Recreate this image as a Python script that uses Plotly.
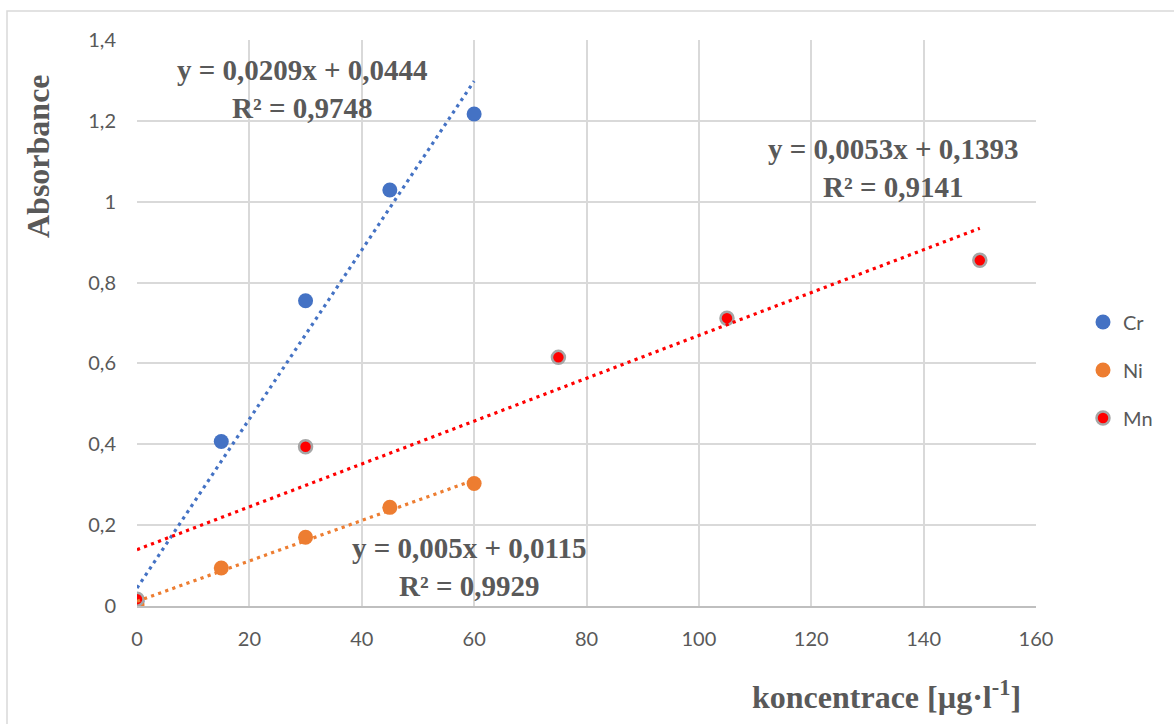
import plotly.graph_objects as go

# Calibration data: concentration [µg/l] vs. absorbance
cr_x = [0, 15, 30, 45, 60]
cr_y = [0.012, 0.407, 0.755, 1.029, 1.217]

ni_x = [0, 15, 30, 45, 60]
ni_y = [0.003, 0.094, 0.170, 0.244, 0.303]

mn_x = [0, 30, 75, 105, 150]
mn_y = [0.017, 0.394, 0.615, 0.712, 0.855]

# Linear trendlines (slope, intercept, R², x-range)
cr_fit = (0.0209, 0.0444, "0,9748", [0, 60])
ni_fit = (0.005, 0.0115, "0,9929", [0, 60])
mn_fit = (0.0053, 0.1393, "0,9141", [0, 150])

x_ticks = [0, 20, 40, 60, 80, 100, 120, 140, 160]
y_ticks = [0, 0.2, 0.4, 0.6, 0.8, 1.0, 1.2, 1.4]
y_tick_text = ["0", "0,2", "0,4", "0,6", "0,8", "1", "1,2", "1,4"]

GREY = "#595959"
TICK_FONT = dict(family="Lato", size=20, color=GREY)
EQ_FONT = dict(family="Liberation Serif", size=29, color=GREY, weight="bold")
TITLE_FONT = dict(family="Liberation Serif", size=32, color=GREY, weight="bold")

fig = go.Figure()

series = [
    ("Cr", cr_x, cr_y, dict(color="#4472C4", size=15)),
    ("Ni", ni_x, ni_y, dict(color="#ED7D31", size=15)),
    ("Mn", mn_x, mn_y, dict(color="#FF0000", size=13,
                             line=dict(color="#A6A6A6", width=2.5))),
]
for i, (name, xs, ys, marker) in enumerate(series):
    fig.add_trace(go.Scatter(x=xs, y=ys, mode="markers", name=name,
                             marker=marker, legendgroup=name,
                             legendrank=i))

def fit_line(fit, color):
    slope, intercept, _, (x0, x1) = fit
    xs = [x0, x1]
    ys = [slope * v + intercept for v in xs]
    return go.Scatter(x=xs, y=ys, mode="lines", showlegend=False,
                      hoverinfo="skip",
                      line=dict(color=color, width=3.2, dash="3.2px,4.3px"))

fig.add_trace(fit_line(cr_fit, "#4472C4"))
fig.add_trace(fit_line(ni_fit, "#ED7D31"))
fig.add_trace(fit_line(mn_fit, "#FF0000"))

def eq_text(fit):
    slope, intercept, r2, _ = fit
    s = f"{slope:g}".replace(".", ",")
    c = f"{intercept:g}".replace(".", ",")
    return f"y = {s}x + {c}<br>R² = {r2}"

annotations = [
    dict(x=(302 - 137) / 899, y=(606 - 89) / 566, text=eq_text(cr_fit)),
    dict(x=(893 - 137) / 899, y=(606 - 168) / 566, text=eq_text(mn_fit)),
    dict(x=(469 - 137) / 899, y=(606 - 567) / 566, text=eq_text(ni_fit)),
]
for a in annotations:
    fig.add_annotation(xref="paper", yref="paper", showarrow=False,
                       xanchor="center", yanchor="middle", align="center",
                       font=EQ_FONT, **a)

# Axis titles
fig.add_annotation(xref="paper", yref="paper", showarrow=False,
                   x=(38 - 137) / 899, y=(606 - 156) / 566,
                   xanchor="center", yanchor="middle", textangle=-90,
                   text="Absorbance", font=TITLE_FONT)
fig.add_annotation(xref="paper", yref="paper", showarrow=False,
                   x=(886 - 137) / 899, y=(606 - 695) / 566,
                   xanchor="center", yanchor="middle",
                   text="koncentrace [µg·l<sup>-1</sup>]", font=TITLE_FONT)

# Chart border
fig.add_shape(type="rect", xref="paper", yref="paper",
              x0=(7 - 137) / 899, x1=(1190 - 137) / 899,
              y0=(606 - 740) / 566, y1=(606 - 11) / 566,
              line=dict(color="#D9D9D9", width=1.5), layer="below")

fig.update_layout(
    width=1174, height=724,
    margin=dict(l=137, r=138, t=40, b=118),
    paper_bgcolor="white", plot_bgcolor="white",
    showlegend=True,
    legend=dict(x=(1083 - 137) / 899, y=(606 - 370) / 566,
                xanchor="left", yanchor="middle",
                font=dict(family="Lato", size=20, color=GREY),
                tracegroupgap=19, itemwidth=30,
                bgcolor="rgba(0,0,0,0)"),
    xaxis=dict(range=[0, 160], tickvals=x_ticks, ticktext=[str(v) for v in x_ticks],
               showgrid=True, gridcolor="#D9D9D9", gridwidth=1.5,
               zeroline=False, showline=True, linecolor="#BFBFBF", linewidth=1.5,
               ticks="outside", ticklen=14, tickcolor="rgba(0,0,0,0)",
               tickfont=TICK_FONT),
    yaxis=dict(range=[0, 1.4], tickvals=y_ticks, ticktext=y_tick_text,
               showgrid=True, gridcolor="#D9D9D9", gridwidth=1.5,
               zeroline=False, showline=False,
               ticks="outside", ticklen=16, tickcolor="rgba(0,0,0,0)",
               tickfont=TICK_FONT),
)

fig.write_html("out.html")
